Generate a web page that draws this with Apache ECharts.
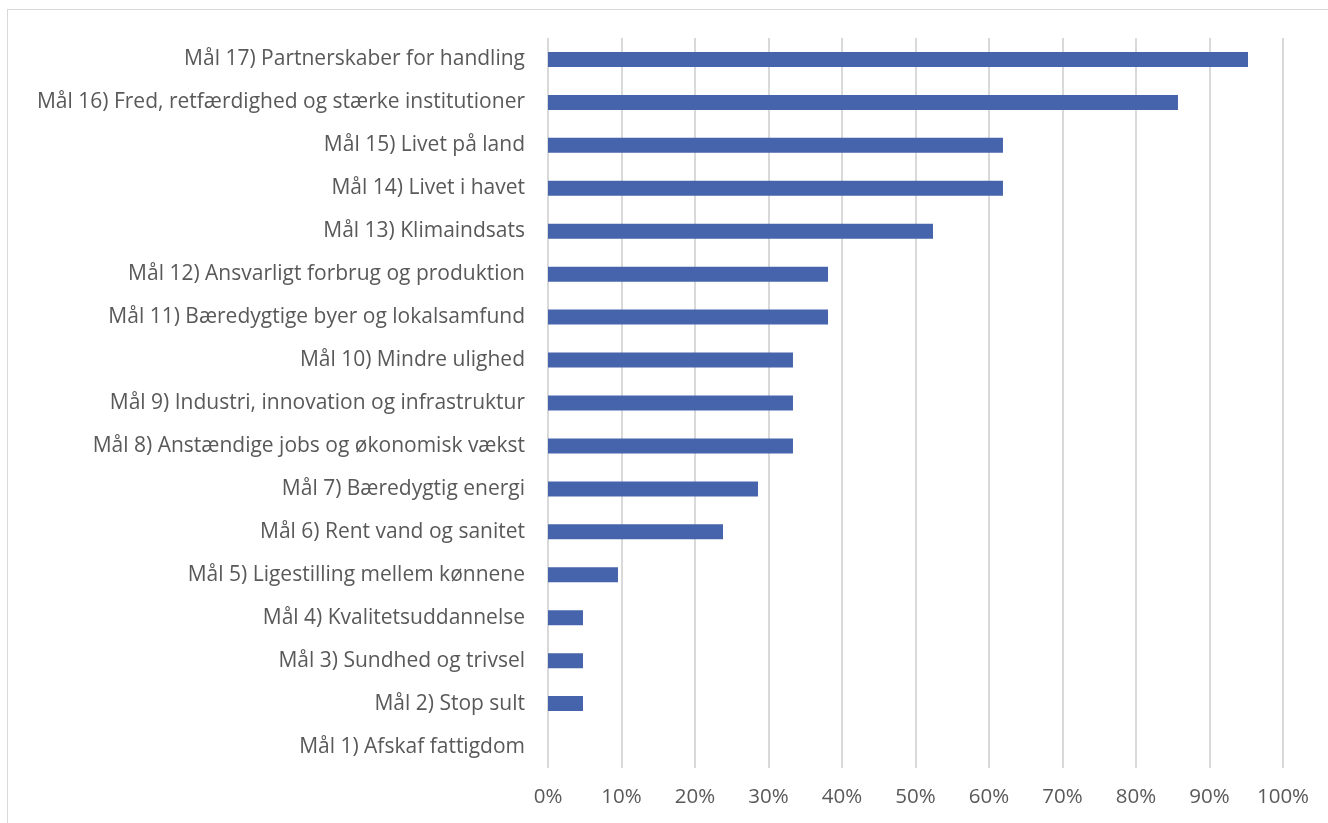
<!DOCTYPE html>
<html>
<head>
<meta charset="utf-8">
<script src="https://cdn.jsdelivr.net/npm/echarts@6/dist/echarts.min.js"></script>
<style>
    html, body { margin: 0; padding: 0; background: #fff; }
    #frame {
        position: absolute; left: 7px; top: 9px; width: 1330px; height: 820px;
        border-left: 1px solid #d9d9d9; border-top: 1px solid #d9d9d9;
    }
    #chart { position: absolute; left: 0; top: 0; width: 1328px; height: 823px; }
</style>
</head>
<body>
<div id="frame"></div>
<div id="chart"></div>
<script>
// categories, bottom to top as ECharts draws a category y axis
const goals = [
    'Mål 1) Afskaf fattigdom',
    'Mål 2) Stop sult',
    'Mål 3) Sundhed og trivsel',
    'Mål 4) Kvalitetsuddannelse',
    'Mål 5) Ligestilling mellem kønnene',
    'Mål 6) Rent vand og sanitet',
    'Mål 7) Bæredygtig energi',
    'Mål 8) Anstændige jobs og økonomisk vækst',
    'Mål 9) Industri, innovation og infrastruktur',
    'Mål 10) Mindre ulighed',
    'Mål 11) Bæredygtige byer og lokalsamfund',
    'Mål 12) Ansvarligt forbrug og produktion',
    'Mål 13) Klimaindsats',
    'Mål 14) Livet i havet',
    'Mål 15) Livet på land',
    'Mål 16) Fred, retfærdighed og stærke institutioner',
    'Mål 17) Partnerskaber for handling'
];
// share in percent
const shares = [0, 4.76, 4.76, 4.76, 9.52, 23.81, 28.57, 33.33, 33.33, 33.33,
    38.10, 38.10, 52.38, 61.90, 61.90, 85.71, 95.24];
const xTicks = [0, 10, 20, 30, 40, 50, 60, 70, 80, 90, 100];

var myChart = echarts.init(document.getElementById('chart'));
var option = {
    animation: false,
    textStyle: { fontFamily: 'Open Sans' },
    grid: {
        left: 548,
        right: 45,
        top: 38,
        bottom: 55,
        containLabel: false
    },
    xAxis: {
        type: 'value',
        min: xTicks[0],
        max: xTicks[xTicks.length - 1],
        interval: 10,
        axisLine: { show: false },
        axisTick: { show: false },
        axisLabel: {
            color: '#595959',
            fontSize: 20.5,
            margin: 19,
            formatter: function (v) { return v + '%'; }
        },
        splitLine: { show: true, lineStyle: { color: '#d9d9d9', width: 2 } }
    },
    yAxis: {
        type: 'category',
        data: goals,
        axisLine: { show: false },
        axisTick: { show: false },
        axisLabel: {
            color: '#595959',
            fontSize: 21,
            margin: 23
        }
    },
    series: [
        {
            type: 'bar',
            data: shares,
            barWidth: 15,
            itemStyle: {
                color: '#4664ab'
            }
        }
    ]
};
myChart.setOption(option);
</script>
</body>
</html>
